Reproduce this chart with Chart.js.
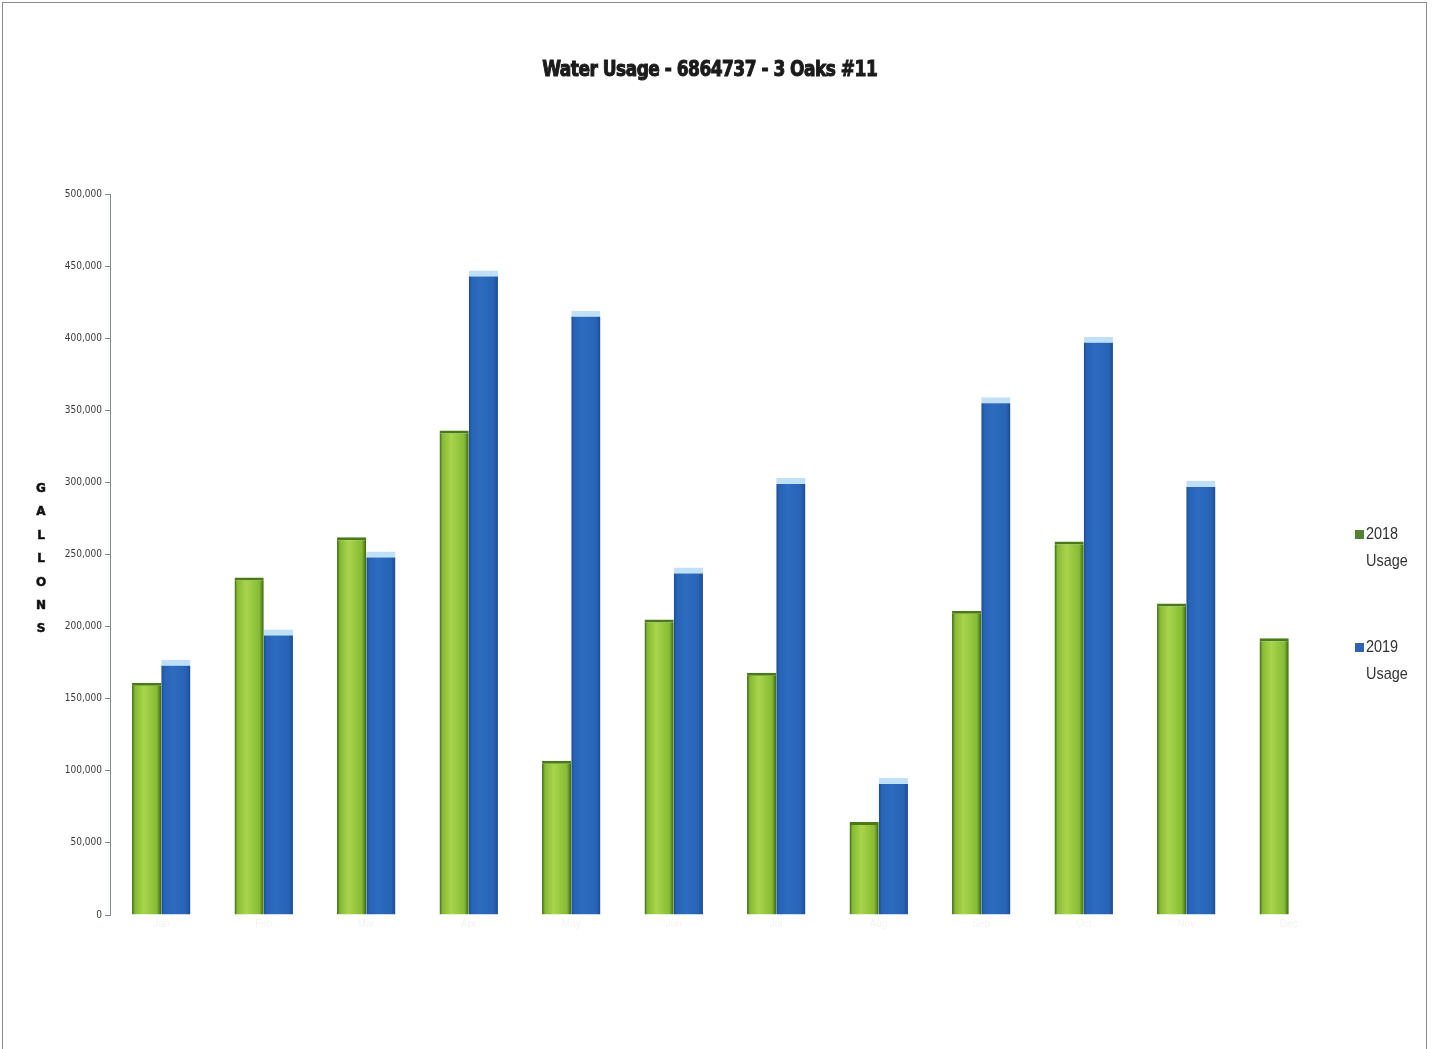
<!DOCTYPE html>
<html>
<head>
<meta charset="utf-8">
<script src="https://cdn.jsdelivr.net/npm/chart.js@4.4.0/dist/chart.umd.min.js"></script>
<style>
    html, body { margin: 0; padding: 0; background: #fff; }
    body { width: 1435px; height: 1049px; position: relative; overflow: hidden; font-family: 'DejaVu Sans Condensed', 'DejaVu Sans', sans-serif; }
    #frame { position: absolute; left: 2px; top: 2px; width: 1425px; height: 1100px; border: 1px solid #8c8c8c; box-sizing: border-box; }
    #title { position: absolute; left: 0; width: 1420px; top: 56px; text-align: center; font-family: 'DejaVu Sans Condensed', 'DejaVu Sans', sans-serif; font-stretch: condensed; font-weight: bold; font-size: 22px; color: #1b1b1b; letter-spacing: -0.6px; -webkit-text-stroke: 1px #1b1b1b; }
    #title span { display: inline-block; transform: scaleX(0.86); transform-origin: center; }
    #ytitle { position: absolute; left: 34px; top: 477px; width: 14px; text-align: center; font-family: 'DejaVu Sans', sans-serif; font-weight: bold; font-size: 12px; line-height: 23.4px; color: #111; -webkit-text-stroke: 0.5px #111; }
    #legend { position: absolute; left: 1355px; top: 520px; font-family: 'Liberation Sans', sans-serif; font-size: 17px; color: #333; }
    .item { position: relative; padding-left: 11px; line-height: 27px; margin-bottom: 59px; }
    .item .txt { display: inline-block; transform: scaleX(0.85); transform-origin: left; }
    .swatch { position: absolute; left: 0; top: 10px; width: 9px; height: 9px; }
    #wrap { position: absolute; left: 0; top: 0; width: 1435px; height: 1049px; }
</style>
</head>
<body>
<div id="frame"></div>
<div id="wrap"><canvas id="chart"></canvas></div>
<div id="title"></div>
<div id="ytitle"></div>
<div id="legend"></div>
<script>
    // Datos (galones por mes)
    const meses = ['Jan', 'Feb', 'Mar', 'Apr', 'May', 'Jun', 'Jul', 'Aug', 'Sep', 'Oct', 'Nov', 'Dec'];
    const usage2018 = [161000, 234000, 262000, 336000, 107000, 205000, 168000, 64500, 211000, 259000, 216000, 192000];
    const usage2019 = [177000, 198000, 252000, 447000, 419000, 241000, 303000, 95000, 359000, 401000, 301000, null];
    const seriesNames = ['2018 Usage', '2019 Usage'];
    const yTicks = [0, 50000, 100000, 150000, 200000, 250000, 300000, 350000, 400000, 450000, 500000];
    const titulo = 'Water Usage - 6864737 - 3 Oaks #11';
    const yTitulo = 'GALLONS';

    const CAT_PCT = 0.57;

    const colores = {
        green: { edge: '#3b6510', mid: '#86bb34', light: '#a9d44c', top: '#4a7a18', swatch: '#548235' },
        blue: { edge: '#1c4c92', mid: '#2763b6', light: '#2d6cc0', top: '#bfe0f6', swatch: '#2e64b0' }
    };

    const titleSpan = document.createElement('span');
    titleSpan.textContent = titulo;
    document.getElementById('title').appendChild(titleSpan);
    document.getElementById('ytitle').innerHTML = yTitulo.split('').join('<br>');

    const legend = document.getElementById('legend');
    [colores.green, colores.blue].forEach((c, i) => {
        const [a, b] = seriesNames[i].split(' ');
        const div = document.createElement('div');
        div.className = 'item';
        div.innerHTML = `<span class="swatch" style="background:${c.swatch}"></span><span class="txt">${a}</span><br><span class="txt">${b}</span>`;
        legend.appendChild(div);
    });

    // Degradado horizontal por barra (efecto cilindro), calculado con la escala X
    function barGradient(pal) {
        return (ctx) => {
            const chart = ctx.chart;
            const xs = chart.scales.x;
            if (!xs || ctx.dataIndex === undefined) return pal.mid;
            const catW = xs.width / meses.length;
            const barW = catW * CAT_PCT / 2;
            const center = xs.getPixelForValue(ctx.dataIndex);
            if (!isFinite(center) || !isFinite(barW) || barW <= 0) return pal.mid;
            const left = ctx.datasetIndex === 0 ? center - barW : center;
            const g = chart.ctx.createLinearGradient(left, 0, left + barW, 0);
            g.addColorStop(0, pal.edge);
            g.addColorStop(0.1, pal.mid);
            g.addColorStop(0.4, pal.light);
            g.addColorStop(0.85, pal.mid);
            g.addColorStop(1, pal.edge);
            return g;
        };
    }

    new Chart(document.getElementById('chart'), {
        type: 'bar',
        data: {
            labels: meses,
            datasets: [
                {
                    label: seriesNames[0],
                    data: usage2018,
                    backgroundColor: barGradient(colores.green),
                    borderColor: colores.green.top,
                    borderWidth: { top: 3, left: 0, right: 0, bottom: 0 },
                    borderSkipped: false
                },
                {
                    label: seriesNames[1],
                    data: usage2019,
                    backgroundColor: barGradient(colores.blue),
                    borderColor: colores.blue.top,
                    borderWidth: { top: 6, left: 0, right: 0, bottom: 0 },
                    borderSkipped: false
                }
            ]
        },
        options: {
            responsive: true,
            maintainAspectRatio: false,
            animation: false,
            categoryPercentage: CAT_PCT,
            barPercentage: 1.0,
            layout: { padding: { top: 194, bottom: 104, left: 0, right: 95 } },
            plugins: {
                legend: { display: false },
                title: { display: false },
                tooltip: { enabled: false }
            },
            scales: {
                x: {
                    afterFit: (s) => { s.height = 30; },
                    grid: { display: false, drawTicks: false },
                    border: { display: false },
                    ticks: { color: '#f3f3f3', font: { size: 10 } }
                },
                y: {
                    min: 0,
                    max: 500000,
                    afterFit: (s) => { s.width = 110; },
                    afterBuildTicks: (s) => { s.ticks = yTicks.map(v => ({ value: v })); },
                    grid: { drawOnChartArea: false, drawTicks: true, tickLength: 5, color: '#7d8a9c' },
                    border: { display: true, color: '#7d8a9c', width: 1 },
                    ticks: {
                        padding: 3,
                        color: '#3a3a3a',
                        font: { family: "'DejaVu Sans Condensed', 'DejaVu Sans', sans-serif", size: 10 },
                        callback: (v) => v.toLocaleString('en-US')
                    }
                }
            }
        }
    });
</script>
</body>
</html>
